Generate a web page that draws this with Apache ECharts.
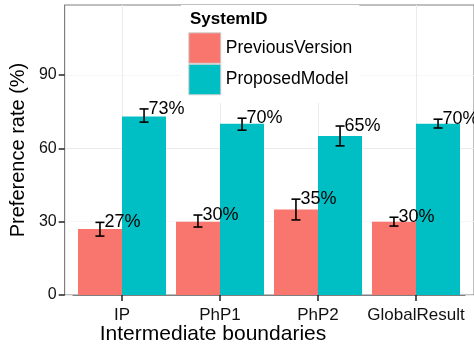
<!DOCTYPE html>
<html>
<head>
<meta charset="utf-8">
<title>Preference rate by intermediate boundary</title>
<script src="https://cdn.jsdelivr.net/npm/echarts@6/dist/echarts.min.js"></script>
<style>
  html, body { margin: 0; padding: 0; background: #fff; }
  #chart { width: 474px; height: 346px; }
</style>
</head>
<body>
<div id="chart"></div>
<script>
// Categories on the x axis
const categories = ['IP', 'PhP1', 'PhP2', 'GlobalResult'];
// Series names
const seriesNames = ['PreviousVersion', 'ProposedModel'];
// Preference rate (%) per system
const previousRate = [27, 30, 35, 30];
const proposedRate = [73, 70, 65, 70];
// Error bar bounds (%)
const previousLow  = [24.1, 27.8, 30.7, 28.2];
const previousHigh = [29.7, 32.7, 39.2, 31.8];
const proposedLow  = [70.7, 67.4, 61.0, 68.3];
const proposedHigh = [76.1, 72.3, 69.1, 71.9];
// Labelled y ticks
const yTicks = [0, 30, 60, 90];
const yMax = 118.6;

const FONT = "'Liberation Sans', Arial, Helvetica, sans-serif";
const COLORS = ['#F8766D', '#00BFC4'];

function errorBars(low, high, rate, side) {
  return {
    type: 'custom',
    xAxisIndex: 1,
    yAxisIndex: 1,
    zlevel: 1,
    z: 12,
    silent: true,
    data: categories.map((c, i) => [i, low[i], high[i], rate[i]]),
    encode: { x: 0, y: [1, 2] },
    renderItem(params, api) {
      const i = api.value(0);
      const band = api.size([1, 0])[0];
      const cx = api.coord([i, 0])[0] + side * band * 0.225;
      const yLo = api.coord([i, api.value(1)])[1];
      const yHi = api.coord([i, api.value(2)])[1];
      const cap = band * 0.046;
      const stroke = { stroke: '#000', lineWidth: 1.6 };
      return {
        type: 'group',
        children: [
          { type: 'line', shape: { x1: cx, y1: yLo, x2: cx, y2: yHi }, style: stroke },
          { type: 'line', shape: { x1: cx - cap, y1: yHi, x2: cx + cap, y2: yHi }, style: stroke },
          { type: 'line', shape: { x1: cx - cap, y1: yLo, x2: cx + cap, y2: yLo }, style: stroke },
          {
            type: 'text', x: cx + 4.5, y: yHi,
            style: {
              text: api.value(3) + '%', fontSize: 18, fontFamily: FONT,
              fill: '#000', align: 'left', verticalAlign: 'middle'
            }
          }
        ]
      };
    }
  };
}

const chart = echarts.init(document.getElementById('chart'), null, { renderer: 'canvas' });

chart.setOption({
  animation: false,
  textStyle: { fontFamily: FONT },
  grid: [
    // panel with border and horizontal grid lines
    { left: 63, top: 5, width: 412, height: 290, show: true,
      backgroundColor: '#fff', borderColor: '#7f7f7f', borderWidth: 1 },
    // bar area: four 98px bands
    { left: 73, top: 5, width: 392, height: 290 }
  ],
  xAxis: [
    { gridIndex: 0, type: 'value', min: 0, max: 1, show: false },
    {
      gridIndex: 1, type: 'category', data: categories,
      axisLine: { show: true, lineStyle: { color: '#7f7f7f', width: 1 } },
      axisTick: { show: true, interval: 0, alignWithLabel: true, length: 6,
        lineStyle: { color: '#222', width: 1.5 } },
      axisLabel: { interval: 0, hideOverlap: false, fontSize: 17, color: '#111', margin: 12, fontFamily: FONT },
      splitLine: { show: false }
    }
  ],
  yAxis: [
    {
      gridIndex: 0, type: 'value', min: 0, max: yMax, interval: 15,
      axisLine: { show: true, lineStyle: { color: '#7f7f7f', width: 1 } },
      axisTick: { show: true, customValues: yTicks, length: 6, lineStyle: { color: '#222', width: 1.5 } },
      axisLabel: { customValues: yTicks, fontSize: 16, color: '#111', margin: 8, fontFamily: FONT },
      splitLine: { show: true, lineStyle: { color: ['#ebebeb', '#f6f6f6'], width: 1 } },
      name: 'Preference rate (%)',
      nameLocation: 'middle',
      nameGap: 36,
      nameTextStyle: { fontSize: 20, color: '#000', fontFamily: FONT }
    },
    { gridIndex: 1, type: 'value', min: 0, max: yMax, show: false, splitLine: { show: false } }
  ],
  legend: {
    z: 9,
    orient: 'vertical',
    left: 181,
    top: 5,
    padding: [27.3, 7, 7.7, 7.3],
    backgroundColor: '#fff',
    itemWidth: 32,
    itemHeight: 30.5,
    itemGap: 0,
    selectedMode: false,
    textStyle: { fontSize: 17.5, color: '#000', fontFamily: FONT },
    data: seriesNames.map(n => ({ name: n, icon: 'rect',
      itemStyle: { borderColor: '#d0d0d0', borderWidth: 1 } }))
  },
  graphic: [
    {
      type: 'text', left: 190, top: 11, z: 100,
      style: { text: 'SystemID', fontSize: 17, fontWeight: 'bold', fill: '#000', fontFamily: FONT }
    },
    {
      type: 'text', x: 213, y: 334, z: 100,
      style: { text: 'Intermediate boundaries', fontSize: 21, fill: '#000', fontFamily: FONT,
        align: 'center', verticalAlign: 'middle' }
    }
  ],
  series: [
    {
      // vertical grid lines at category centres, kept beneath the bars
      type: 'line', xAxisIndex: 1, yAxisIndex: 1, data: [], z: 1, silent: true,
      markLine: {
        silent: true, symbol: 'none', label: { show: false },
        lineStyle: { color: '#ebebeb', width: 1, type: 'solid' },
        data: categories.map(c => ({ xAxis: c }))
      }
    },
    {
      name: seriesNames[0], type: 'bar', xAxisIndex: 1, yAxisIndex: 1, zlevel: 1, z: 10,
      data: previousRate, barWidth: 44, barGap: '0%',
      itemStyle: { color: COLORS[0], borderWidth: 0 }
    },
    {
      name: seriesNames[1], type: 'bar', xAxisIndex: 1, yAxisIndex: 1, zlevel: 1, z: 10,
      data: proposedRate, barWidth: 44, barGap: '0%',
      itemStyle: { color: COLORS[1], borderWidth: 0 }
    },
    errorBars(previousLow, previousHigh, previousRate, -1),
    errorBars(proposedLow, proposedHigh, proposedRate, 1)
  ]
});
</script>
</body>
</html>
